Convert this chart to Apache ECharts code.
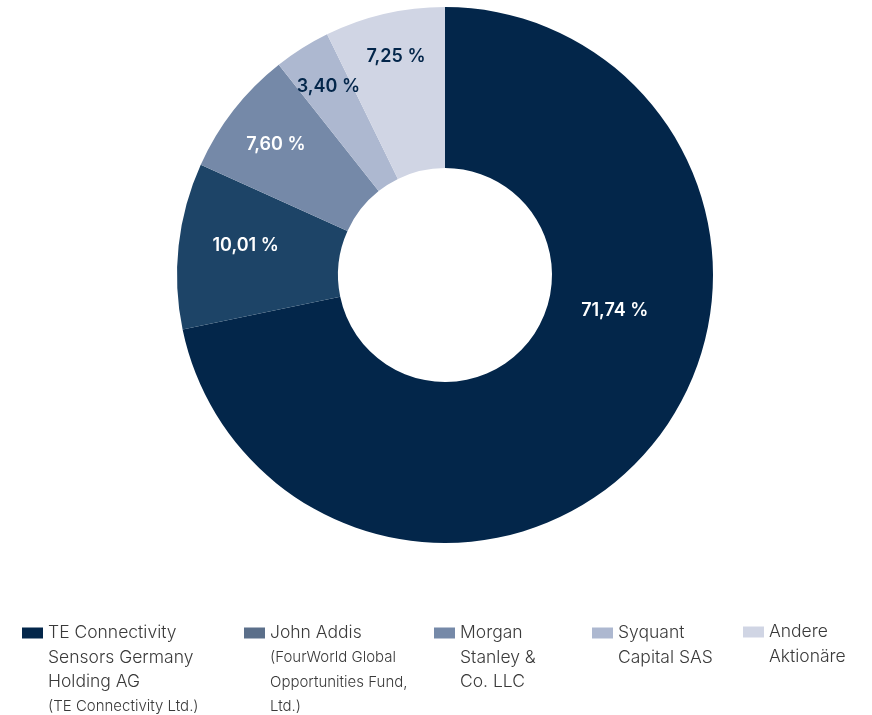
<!DOCTYPE html>
<html>
<head>
<meta charset="utf-8">
<script src="https://cdn.jsdelivr.net/npm/echarts@6/dist/echarts.min.js"></script>
<style>
  html, body { margin: 0; padding: 0; background: #fff; }
  #main { width: 872px; height: 715px; }
</style>
</head>
<body>
<div id="main"></div>
<script>
// Aktionärsstruktur
var shareholders = [
    'TE Connectivity Sensors Germany Holding AG',
    'John Addis',
    'Morgan Stanley & Co. LLC',
    'Syquant Capital SAS',
    'Andere Aktionäre'
];
var shares = [71.74, 10.01, 7.60, 3.40, 7.25];

// legend text, wrapped like the original
var legendLines = [
    ['TE Connectivity', 'Sensors Germany', 'Holding AG'],
    ['John Addis'],
    ['Morgan', 'Stanley &', 'Co. LLC'],
    ['Syquant', 'Capital SAS'],
    ['Andere', 'Aktionäre']
];
var legendNotes = [
    ['(TE Connectivity Ltd.)'],
    ['(FourWorld Global', 'Opportunities Fund,', 'Ltd.)'],
    [],
    [],
    []
];

var sliceColors = ['#03264a', '#1d4467', '#7589a8', '#adb8d0', '#d0d5e4'];
var legendColors = ['#03264a', '#5b6f8a', '#7589a8', '#adb8d0', '#d0d5e4'];
var labelColors = ['#ffffff', '#ffffff', '#ffffff', '#03264a', '#03264a'];
// shift of each label from the middle of its ring segment
var labelShift = [[22, -85], [-10, -9], [-19, -13], [-15, -27], [-6, -33]];
var legendLeft = [22, 244, 434, 592, 743];
var legendIconY = [631, 631, 631, 631, 630];

var LINE_H = 24.5;

var chart = echarts.init(document.getElementById('main'), null, {renderer: 'canvas'});

var legends = shareholders.map(function (name, i) {
    var n = legendLines[i].length + legendNotes[i].length;
    var H = n * LINE_H;
    return {
        data: [{name: name, itemStyle: {color: legendColors[i]}}],
        left: legendLeft[i],
        top: legendIconY[i] - 7,
        padding: 0,
        itemWidth: 21,
        itemHeight: 11,
        icon: 'rect',
        selectedMode: false,
        formatter: function () {
            var parts = legendLines[i].map(function (s) { return '{a|' + s + '}'; })
                .concat(legendNotes[i].map(function (s) { return '{b|' + s + '}'; }));
            return parts.join('\n');
        },
        textStyle: {
            padding: [H - LINE_H, 0, 0, 0],
            rich: {
                a: {fontFamily: 'Inter', fontSize: 17.5, fontWeight: 300, lineHeight: LINE_H, color: '#3a3a3a'},
                b: {fontFamily: 'Inter', fontSize: 15, fontWeight: 300, lineHeight: LINE_H, color: '#3a3a3a'}
            }
        }
    };
});

var option = {
    backgroundColor: '#fff',
    animation: false,
    legend: legends,
    series: [
        {
            type: 'pie',
            center: [445, 275],
            radius: [107, 268],
            startAngle: 90,
            clockwise: true,
            avoidLabelOverlap: false,
            labelLine: {show: false},
            label: {
                show: true,
                position: 'inside',
                fontFamily: 'Inter',
                fontSize: 18,
                fontWeight: 600,
                formatter: function (p) {
                    return p.value.toFixed(2).replace('.', ',') + ' %';
                }
            },
            labelLayout: function (p) {
                return {dx: labelShift[p.dataIndex][0], dy: labelShift[p.dataIndex][1]};
            },
            emphasis: {disabled: true},
            data: shares.map(function (v, i) {
                return {
                    name: shareholders[i],
                    value: v,
                    itemStyle: {color: sliceColors[i]},
                    label: {color: labelColors[i]}
                };
            })
        }
    ]
};
chart.setOption(option);
</script>
</body>
</html>
